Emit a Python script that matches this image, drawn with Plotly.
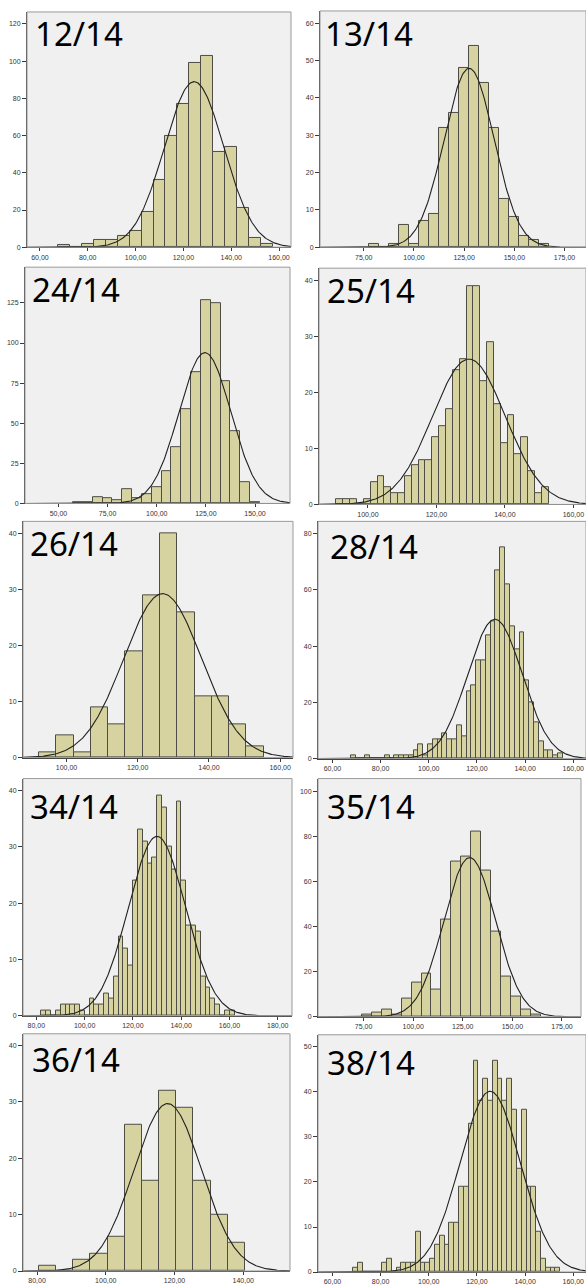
import numpy as np
import plotly.graph_objects as go

W, H = 586, 1285

# ---------------- data ----------------
labels = ["12/14", "13/14", "24/14", "25/14", "26/14",
          "28/14", "34/14", "35/14", "36/14", "38/14"]

# first bin edge and bin width of every histogram
bin_start = [67.5, 77.5, 57.5, 90.8, 92.3, 67.7, 82.1, 74.2, 80.5, 68.6]
bin_width = [5, 5, 5, 2, 4.85, 2, 2, 5, 5, 2]

counts_12 = [1, 0, 2, 4, 4, 6, 9, 19, 36, 60, 77, 99, 103, 51, 54, 21, 5, 2]
counts_13 = [1, 0, 1, 6, 1, 7, 9, 32, 36, 48, 54, 44, 32, 13, 8, 3, 2, 1]
counts_24 = [1, 1, 4, 3, 2, 9, 3, 6, 10, 20, 35, 59, 82, 127, 125, 76, 45, 13, 1]
counts_25 = [1, 1, 1, 0, 1, 4, 5, 3, 2, 2, 5, 7, 8, 8, 12, 14, 17, 24, 26, 39, 39,
             22, 29, 18, 11, 16, 9, 12, 6, 2, 3]
counts_26 = [1, 4, 1, 9, 6, 19, 29, 40, 26, 11, 11, 6, 2]
counts_28 = [1, 0, 0, 1, 0, 0, 0, 1, 0, 1, 1, 1, 1, 3, 5, 1, 5, 7, 7, 9, 7, 7, 12, 8,
             24, 26, 35, 35, 44, 49, 67, 75, 62, 47, 39, 45, 28, 20, 13, 6, 3, 3, 1, 2]
counts_34 = [1, 1, 0, 1, 2, 2, 2, 2, 1, 0, 3, 2, 2, 4, 3, 7, 14, 12, 9, 24, 33, 31,
             27, 28, 39, 37, 30, 26, 38, 24, 16, 16, 15, 7, 5, 3, 2, 0, 1, 1]
counts_35 = [1, 2, 3, 1, 8, 15, 19, 12, 43, 69, 71, 82, 65, 38, 18, 9, 3, 1]
counts_36 = [1, 0, 2, 3, 6, 26, 16, 32, 29, 16, 10, 5]
counts_38 = [1, 2, 0, 0, 0, 0, 2, 3, 0, 1, 2, 2, 2, 9, 2, 2, 3, 6, 8, 6, 11, 11, 19,
             19, 33, 47, 38, 43, 38, 47, 43, 38, 43, 36, 23, 36, 19, 19, 9, 3, 1, 1, 1]

all_counts = [counts_12, counts_13, counts_24, counts_25, counts_26,
              counts_28, counts_34, counts_35, counts_36, counts_38]

# fitted normal curve parameters
curve_mean = [124.5, 127.5, 124.5, 129.5, 127.0, 127.5, 130.0, 128.5, 118.0, 125.5]
curve_sd = [12.4, 12.4, 13.2, 10.65, 10.9, 11.3, 11.8, 13.0, 9.8, 12.5]

# axis ranges and ticks
x_ranges = [(54.6, 165.0), (53.2, 185.7), (33.0, 167.8), (85.7, 163.7), (87.8, 163.6),
            (54.0, 165.3), (74.5, 185.9), (52.0, 184.6), (75.9, 153.6), (54.0, 165.3)]
y_ranges = [126.4, 63.3, 147.3, 42.25, 42.2, 84.4, 42.1, 105.6, 42.1, 52.7]
x_ticks = [[60, 80, 100, 120, 140, 160], [75, 100, 125, 150, 175],
           [50, 75, 100, 125, 150], [100, 120, 140, 160], [100, 120, 140, 160],
           [60, 80, 100, 120, 140, 160], [80, 100, 120, 140, 160, 180],
           [75, 100, 125, 150, 175], [80, 100, 120, 140], [60, 80, 100, 120, 140, 160]]
y_ticks = [[0, 20, 40, 60, 80, 100, 120], [0, 10, 20, 30, 40, 50, 60],
           [0, 25, 50, 75, 100, 125], [0, 10, 20, 30, 40], [0, 10, 20, 30, 40],
           [0, 20, 40, 60, 80], [0, 10, 20, 30, 40], [0, 20, 40, 60, 80, 100],
           [0, 10, 20, 30, 40], [0, 10, 20, 30, 40, 50]]

# ---------------- layout (pixel boxes of each plot area) ----------------
boxes = [(27, 12, 291, 248), (320, 11, 586, 248),
         (25, 268, 290, 505), (319, 269, 586, 506),
         (23, 523, 293, 760), (318, 523, 586, 761),
         (23, 781, 292, 1019), (318, 781, 581, 1020),
         (23, 1037, 290, 1275), (318, 1038, 586, 1276)]
title_pos = [(33, 18), (323, 18), (30, 275), (325, 276), (28, 530),
             (328, 533), (28, 793), (325, 793), (30, 1047), (325, 1050)]

BAR_FILL = "#D6D3A0"
BAR_LINE = "#4d4d45"
AXIS_COL = "#3a3a3a"
FRAME_COL = "#9a9a9a"
TICK_FONT = dict(family="Liberation Sans, Arial", size=7, color="#333333")

fig = go.Figure()
layout = dict(width=W, height=H, margin=dict(l=0, r=0, t=0, b=0),
              paper_bgcolor="white", plot_bgcolor="#F0F0F0",
              showlegend=False, bargap=0)
shapes, annotations = [], []

for k in range(10):
    n = k + 1
    xa = "x" if n == 1 else f"x{n}"
    ya = "y" if n == 1 else f"y{n}"
    xkey = "xaxis" if n == 1 else f"xaxis{n}"
    ykey = "yaxis" if n == 1 else f"yaxis{n}"
    counts = all_counts[k]
    w = bin_width[k]
    centers = [bin_start[k] + w * (i + 0.5) for i in range(len(counts))]

    fig.add_trace(go.Bar(x=centers, y=counts, width=[w] * len(counts),
                         marker=dict(color=BAR_FILL, line=dict(color=BAR_LINE, width=1)),
                         xaxis=xa, yaxis=ya, hoverinfo="skip"))

    total = sum(counts)
    xs = np.linspace(x_ranges[k][0], x_ranges[k][1], 300)
    ys = total * w / (curve_sd[k] * np.sqrt(2 * np.pi)) * \
        np.exp(-0.5 * ((xs - curve_mean[k]) / curve_sd[k]) ** 2)
    fig.add_trace(go.Scatter(x=xs, y=ys, mode="lines",
                             line=dict(color="#222222", width=1.1),
                             xaxis=xa, yaxis=ya, hoverinfo="skip"))

    L, T, R, B = boxes[k]
    layout[xkey] = dict(domain=[L / W, R / W], anchor=ya, range=list(x_ranges[k]),
                        tickvals=x_ticks[k],
                        ticktext=[f"{v},00" for v in x_ticks[k]],
                        showgrid=False, zeroline=False, showline=True,
                        linecolor=AXIS_COL, linewidth=1, ticks="outside",
                        ticklen=3, tickcolor=AXIS_COL, tickfont=TICK_FONT, fixedrange=True)
    layout[ykey] = dict(domain=[1 - B / H, 1 - T / H], anchor=xa,
                        range=[0, y_ranges[k]], tickvals=y_ticks[k],
                        showgrid=False, zeroline=False, showline=True,
                        linecolor=AXIS_COL, linewidth=1, ticks="outside",
                        ticklen=4, tickcolor=AXIS_COL, tickfont=TICK_FONT, fixedrange=True)

    shapes.append(dict(type="rect", xref=f"{xa} domain", yref=f"{ya} domain",
                       x0=0, x1=1, y0=0, y1=1, line=dict(color=FRAME_COL, width=1),
                       fillcolor="rgba(0,0,0,0)", layer="above"))

    tx, ty = title_pos[k]
    annotations.append(dict(text=labels[k], xref="paper", yref="paper",
                            x=tx / W, y=1 - (ty - 9) / H, xanchor="left", yanchor="top",
                            showarrow=False,
                            font=dict(family="Noto Sans", size=33, color="black")))

layout["shapes"] = shapes
layout["annotations"] = annotations
fig.update_layout(**layout)
fig.write_html("out.html")
